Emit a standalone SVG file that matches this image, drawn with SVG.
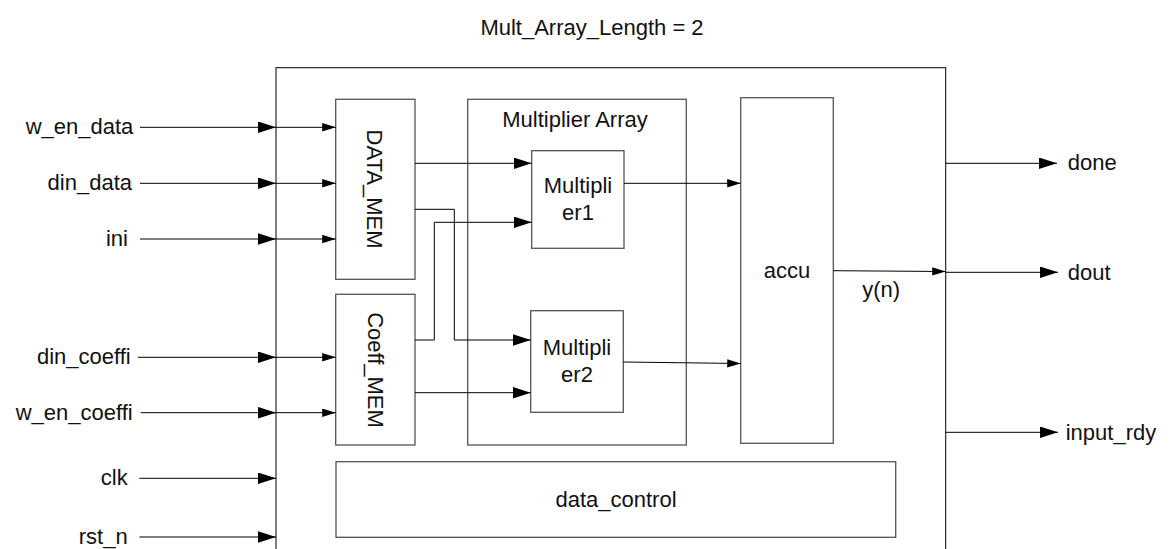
<svg xmlns="http://www.w3.org/2000/svg" width="1170" height="549" viewBox="0 0 1170 549">
  <style>
    text { font-family: "Liberation Sans", Arial, sans-serif; font-size: 22px; fill: #111; }
    .outer { fill: none; stroke: #000; stroke-width: 1; }
    .blk { fill: #fff; stroke: #555; stroke-width: 1.3; }
    .wire { fill: none; stroke: #000; stroke-width: 1; }
    .mid { text-anchor: middle; }
    .end { text-anchor: end; }
  </style>
  <defs>
    <marker id="arrowL" markerUnits="userSpaceOnUse" markerWidth="18" markerHeight="12" refX="18" refY="5.8" orient="auto">
      <path d="M0,0 L18,5.8 L0,11.6 z" fill="#000"/>
    </marker>
    <marker id="arrowS" markerUnits="userSpaceOnUse" markerWidth="14" markerHeight="9" refX="13.5" refY="4.2" orient="auto">
      <path d="M0,0 L13.5,4.2 L0,8.4 z" fill="#000"/>
    </marker>
  </defs>

  <text id="title" class="mid" x="592" y="35">Mult_Array_Length = 2</text>

  <!-- top-level module boundary -->
  <g id="top">
    <rect class="outer" x="276" y="67.7" width="669.7" height="520"/>
  </g>

  <g id="data_mem">
    <rect class="blk" x="335.7" y="99.3" width="79.3" height="180"/>
    <text class="mid" transform="translate(367,189) rotate(90)">DATA_MEM</text>
  </g>

  <g id="coeff_mem">
    <rect class="blk" x="335.7" y="294.3" width="79.3" height="150.7"/>
    <text class="mid" transform="translate(368,370) rotate(90)">Coeff_MEM</text>
  </g>

  <g id="mult_array">
    <rect class="blk" x="467.7" y="99.3" width="218.6" height="345.7"/>
    <text class="mid" x="575" y="126.7">Multiplier Array</text>
  </g>

  <g id="multiplier1">
    <rect class="blk" x="531.7" y="150.7" width="92.3" height="97.6"/>
    <text class="mid" x="578" y="193.3">Multipli</text>
    <text class="mid" x="578" y="220">er1</text>
  </g>

  <g id="multiplier2">
    <rect class="blk" x="530.7" y="310.7" width="92.6" height="101.6"/>
    <text class="mid" x="577" y="355">Multipli</text>
    <text class="mid" x="577" y="381.7">er2</text>
  </g>

  <g id="accu">
    <rect class="blk" x="740.7" y="97.7" width="92.6" height="345.6"/>
    <text class="mid" x="787" y="278.3">accu</text>
  </g>

  <g id="data_control">
    <rect class="blk" x="336" y="461.7" width="559.7" height="75.6"/>
    <text class="mid" x="616" y="506.7">data_control</text>
  </g>

  <!-- port labels -->
  <g id="ports">
    <text class="end" x="133.3" y="134.3">w_en_data</text>
    <text class="end" x="132" y="190.3">din_data</text>
    <text class="end" x="128" y="246">ini</text>
    <text class="end" x="130.7" y="364.3">din_coeffi</text>
    <text class="end" x="132.7" y="419.7">w_en_coeffi</text>
    <text class="end" x="127.7" y="485.3">clk</text>
    <text class="end" x="127.7" y="544">rst_n</text>
    <text x="1067.7" y="170.3">done</text>
    <text x="1067.7" y="279.5">dout</text>
    <text x="1065.7" y="439.5">input_rdy</text>
    <text x="862.3" y="297.3">y(n)</text>
  </g>

  <g id="connectors">
    <!-- inputs into the top module -->
    <line class="wire" x1="140" y1="127.3" x2="276" y2="127.3" marker-end="url(#arrowL)"/>
    <line class="wire" x1="140" y1="183.3" x2="276" y2="183.3" marker-end="url(#arrowL)"/>
    <line class="wire" x1="140" y1="239" x2="276" y2="239" marker-end="url(#arrowL)"/>
    <line class="wire" x1="138" y1="357.3" x2="276" y2="357.3" marker-end="url(#arrowL)"/>
    <line class="wire" x1="140.7" y1="412.7" x2="276" y2="412.7" marker-end="url(#arrowL)"/>
    <line class="wire" x1="139.3" y1="478.3" x2="276" y2="478.3" marker-end="url(#arrowL)"/>
    <line class="wire" x1="139.3" y1="537" x2="276" y2="537" marker-end="url(#arrowL)"/>

    <!-- inputs routed to the memories -->
    <line class="wire" x1="276" y1="127.3" x2="335.7" y2="127.3" marker-end="url(#arrowS)"/>
    <line class="wire" x1="276" y1="183.3" x2="335.7" y2="183.3" marker-end="url(#arrowS)"/>
    <line class="wire" x1="276" y1="239" x2="335.7" y2="239" marker-end="url(#arrowS)"/>
    <line class="wire" x1="276" y1="357.3" x2="335.7" y2="357.3" marker-end="url(#arrowS)"/>
    <line class="wire" x1="276" y1="412.7" x2="335.7" y2="412.7" marker-end="url(#arrowS)"/>

    <!-- memories to multipliers -->
    <line class="wire" x1="415" y1="163.3" x2="531.7" y2="163.3" marker-end="url(#arrowL)"/>
    <polyline class="wire" points="415,209.3 454.3,209.3 454.3,340 530.7,340" marker-end="url(#arrowL)"/>
    <polyline class="wire" points="415,340 434.3,340 434.3,222.3 531.7,222.3" marker-end="url(#arrowL)"/>
    <line class="wire" x1="415" y1="392.7" x2="530.7" y2="392.7" marker-end="url(#arrowL)"/>

    <!-- multipliers to accumulator -->
    <line class="wire" x1="624" y1="183.3" x2="740.7" y2="183.3" marker-end="url(#arrowS)"/>
    <line class="wire" x1="623.3" y1="362" x2="740.7" y2="363.5" marker-end="url(#arrowS)"/>

    <!-- accumulator result to output -->
    <line class="wire" x1="833.3" y1="270.7" x2="945.7" y2="271.5" marker-end="url(#arrowS)"/>

    <!-- outputs -->
    <line class="wire" x1="945.7" y1="163.3" x2="1057" y2="163.3" marker-end="url(#arrowL)"/>
    <line class="wire" x1="945.7" y1="272.3" x2="1058" y2="272.3" marker-end="url(#arrowL)"/>
    <line class="wire" x1="945.7" y1="432.3" x2="1058" y2="432.3" marker-end="url(#arrowL)"/>
  </g>
</svg>
